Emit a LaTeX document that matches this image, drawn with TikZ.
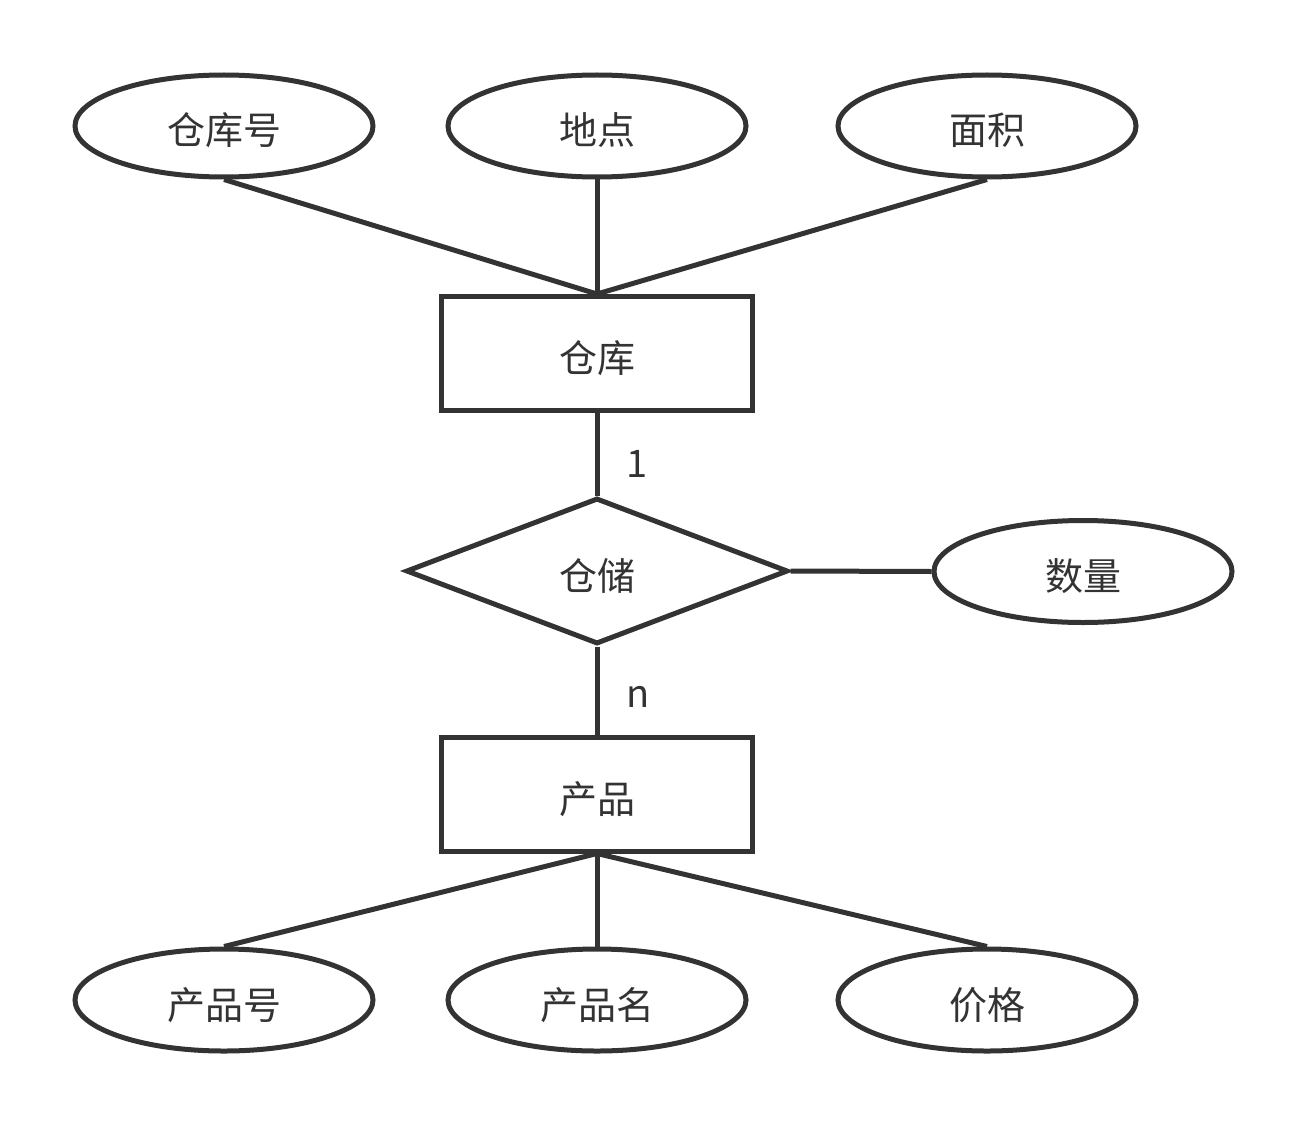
\documentclass[tikz,border=0pt]{standalone}
\usepackage{fontspec}
\setmainfont{Noto Sans CJK SC}
\usetikzlibrary{shapes.geometric}
\definecolor{ink}{HTML}{333333}
\tikzset{
  base/.style={draw=ink, line width=5pt, text=ink, font=\fontsize{38}{44}\selectfont, inner sep=0pt, fill=white, text height=40pt, text depth=2pt},
  attr/.style={base, ellipse, minimum width=298pt, minimum height=102pt},
  ent/.style={base, rectangle, minimum width=311pt, minimum height=114pt, line join=miter},
  rel/.style={base, diamond, minimum width=382pt, minimum height=146pt, line join=miter},
  conn/.style={draw=ink, line width=5pt},
  card/.style={text=ink, font=\fontsize{38}{44}\selectfont, inner sep=0pt}
}
\begin{document}
\begin{tikzpicture}[x=1pt, y=-1pt]
\useasboundingbox (0,0) rectangle (1305,1126);
\fill[white] (0,0) rectangle (1305,1126);
% attribute ellipses
\node[attr] (ckh) at (224,126) {仓库号};
\node[attr] (dd)  at (597,126) {地点};
\node[attr] (mj)  at (987,126) {面积};
\node[ent]  (ck)  at (597,353.5) {仓库};
\node[rel]  (cc)  at (597,571) {仓储};
\node[attr] (sl)  at (1083,571.5) {数量};
\node[ent]  (cp)  at (597,794) {产品};
\node[attr] (cph) at (224,1000) {产品号};
\node[attr] (cpm) at (597,1000) {产品名};
\node[attr] (jg)  at (987,1000) {价格};
% connectors
\draw[conn] (ckh.south) -- (ck.north);
\draw[conn] (dd.south) -- (ck.north);
\draw[conn] (mj.south) -- (ck.north);
\draw[conn] (ck.south) -- node[card, right=27pt, pos=0.62] (c1) {1} (cc.north);
\draw[conn] (cc.south) -- node[card, right=27pt, pos=0.57] (cn) {n} (cp.north);
\draw[conn] (cc.east) -- (sl.west);
\draw[conn] (cp.south) -- (cph.north);
\draw[conn] (cp.south) -- (cpm.north);
\draw[conn] (cp.south) -- (jg.north);
\end{tikzpicture}
\end{document}
